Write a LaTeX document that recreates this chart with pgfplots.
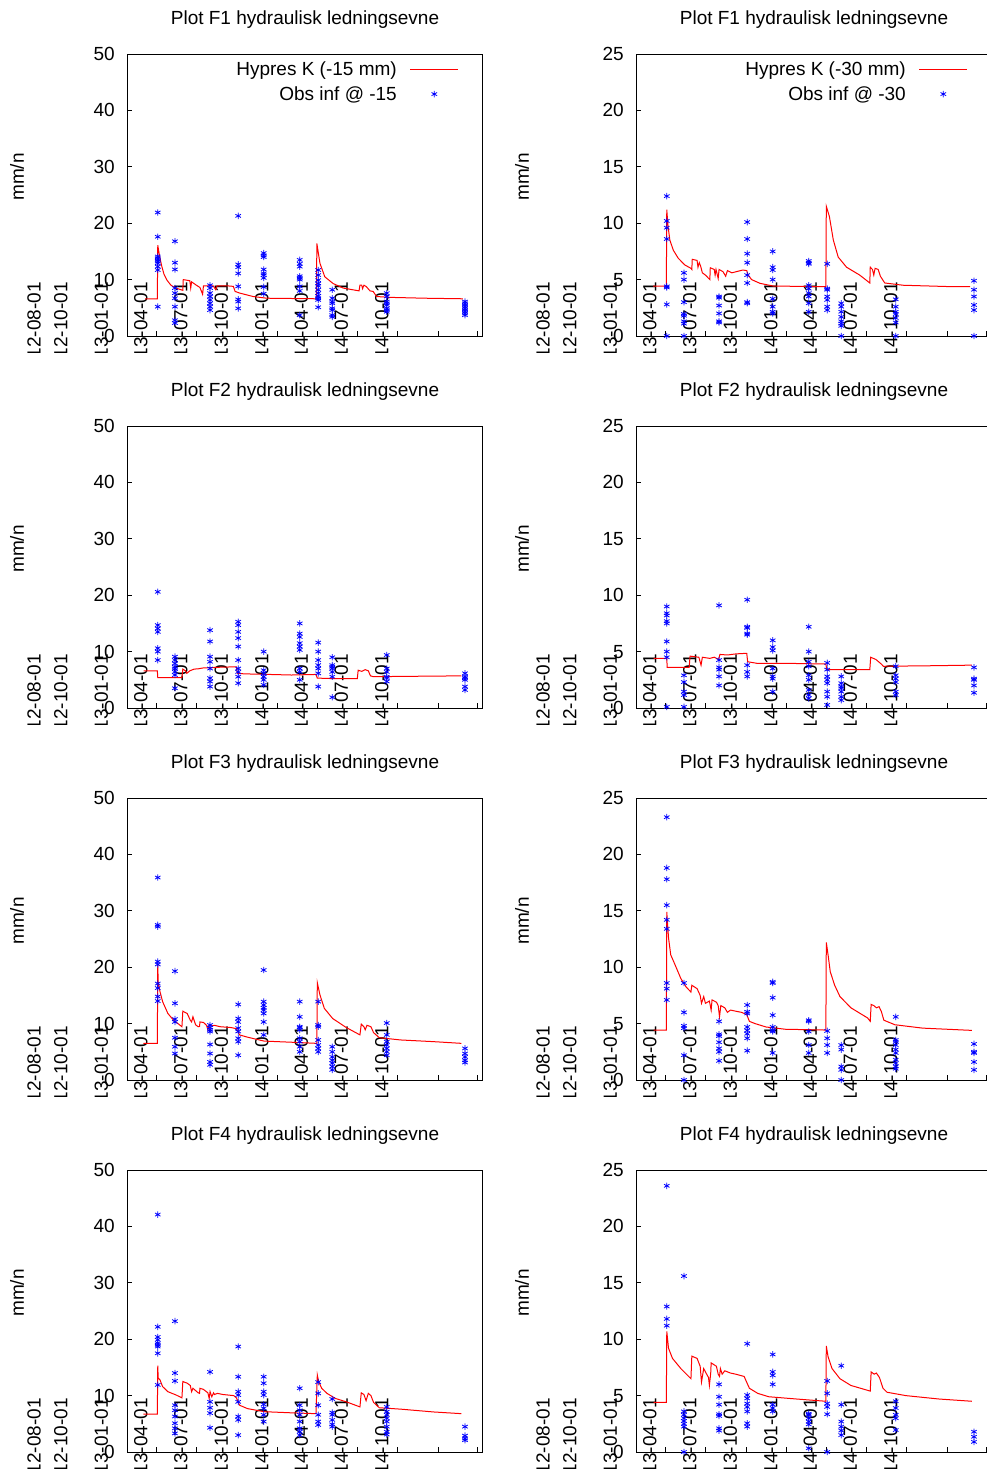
\documentclass[border=0pt]{standalone}
\usepackage{fontspec}
\setmainfont{Liberation Sans}
\usepackage{pgfplots}
\pgfplotsset{compat=1.18}

\newcommand{\F}{\fontsize{19bp}{23bp}\selectfont}

\tikzset{early/.style={xshift=-16bp, yshift=54bp, rotate=90, anchor=east, inner sep=0pt, font=\F}}

% x = days since 2013-01-01
\pgfplotsset{
 kline/.style={red, line width=1bp},
 obs/.style={blue, only marks, mark=asterisk, mark size=3.2bp, mark options={line width=0.8bp}},
 panel/.style={
  scale only axis, width=356bp, height=282bp,
  xmin=22, xmax=832, ymin=0, enlargelimits=false, clip=false,
  axis line style={line width=1bp},
  tick align=inside, xtick pos=left, ytick pos=left,
  major tick length=5bp, tick style={line width=0.8bp, black},
  xtick={90,181,273,365,455,546,638,730,820},
  xticklabels={2013-04-01,2013-07-01,2013-10-01,2014-01-01,2014-04-01,2014-07-01,2014-10-01,{},{}},
  xticklabel style={font=\F, xshift=-16bp, yshift=54bp, rotate=90, anchor=east, inner sep=0pt},
  yticklabel style={font=\F, xshift=-12bp, anchor=east, inner sep=0pt},
  /pgf/number format/assume math mode=true,
  ylabel={mm/n},
  title style={font=\F, at={(0.5,1)}, anchor=base, yshift=24bp, inner sep=0pt},
  legend style={at={(axis description cs:1,1)}, anchor=north east, xshift=-24bp, yshift=-8bp,
    draw=none, fill=none, inner sep=0pt, font=\F, row sep=9bp, column sep=13bp,
    nodes={inner sep=0pt}},
  legend cell align=right, legend plot pos=right,
  legend image code/.code={\path[draw=none, fill=none] (0bp,-3bp) rectangle (48bp,3bp);
    \draw[mark repeat=2,mark phase=2,##1] plot coordinates {(0bp,0bp)(24bp,0bp)(48bp,0bp)};},
 },
 leftpanel/.style={panel, ymax=50, ytick={0,10,...,50},
   every axis y label/.style={at={(axis description cs:0,0.564)}, xshift=-110bp, rotate=90, anchor=center, font=\F}},
 rightpanel/.style={panel, ymax=25, ytick={0,5,...,25},
   every axis y label/.style={at={(axis description cs:0,0.564)}, xshift=-114bp, rotate=90, anchor=center, font=\F}},
}

\newcommand{\earlylabels}{%
 \node[early] at (axis cs:-153,0) {2012-08-01};
 \node[early] at (axis cs:-92,0) {2012-10-01};
 \node[early] at (axis cs:0,0) {2013-01-01};}

\begin{document}
\begin{tikzpicture}
\useasboundingbox (0,-1476bp) rectangle (987bp,0);

% ---------------- F1, -15 mm ----------------
\begin{scope}
\clip (0,-352bp) rectangle (500bp,0);
\begin{axis}[leftpanel, at={(127bp,-336bp)}, anchor=south west,
  title={Plot F1 hydraulisk ledningsevne}]
\addplot[kline] coordinates {(63,6.6)(91,6.6)(92,16.1)(96,14.2)(101,12.4)(106,11.0)(113,9.9)(122,9.0)(133,8.5)(145,8.2)(149,8.1)(150,10.0)(165,9.8)(167,8.5)(169,9.6)(180,9.0)(188,8.6)(194,7.4)(196,8.9)(210,8.9)(218,8.9)(224,8.2)(227,8.9)(249,8.9)(264,8.8)(268,7.9)(279,7.6)(309,7.0)(340,6.7)(453,6.6)(454,16.4)(461,12.9)(472,10.5)(491,9.3)(514,8.5)(550,8.0)(552,9.0)(556,9.0)(558,8.4)(561,9.0)(566,8.8)(575,8.0)(582,7.9)(590,7.0)(620,6.85)(700,6.7)(786,6.6)};
\addplot[obs] coordinates {
(92,21.9)(92,17.6)(92,14.1)(92,13.8)(92,13.5)(92,13.2)(92,12.9)(92,12.3)(92,11.7)(92,5.2)
(131,16.8)(131,13.0)(131,11.8)(131,8.5)(131,7.6)(131,6.7)(131,5.2)(131,2.8)(131,2.3)
(211,9.0)(211,8.5)(211,7.6)(211,7.0)(211,6.4)(211,5.8)(211,5.2)(211,4.6)
(275,21.3)(275,12.7)(275,12.2)(275,11.1)(275,8.8)(275,6.5)(275,6.1)(275,4.9)
(333,14.7)(333,14.3)(333,14.0)(333,11.8)(333,11.1)(333,10.8)(333,10.3)(333,8.7)(333,7.5)
(415,13.5)(415,12.8)(415,12.3)(415,10.6)(415,10.3)(415,10.0)(415,8.8)(415,8.0)(415,3.7)
(457,11.7)(457,10.8)(457,9.9)(457,9.3)(457,8.9)(457,8.2)(457,7.6)(457,7.1)(457,6.7)(457,6.4)(457,5.1)
(489,8.2)(489,6.7)(489,6.1)(489,5.8)(489,4.9)(489,4.6)(489,3.7)(489,3.4)
(613,7.6)(613,7.0)(613,6.1)(613,5.8)(613,5.5)(613,4.9)(613,4.6)(613,4.3)
(791,6.1)(791,5.8)(791,5.5)(791,5.2)(791,4.9)(791,4.6)(791,4.3)(791,4.0)(791,3.7)};
\legend{Hypres K (-15 mm), Obs inf @ -15}
\earlylabels
\end{axis}
\end{scope}

% ---------------- F1, -30 mm ----------------
\begin{scope}
\clip (500bp,-352bp) rectangle (987bp,0);
\begin{axis}[rightpanel, at={(636bp,-336bp)}, anchor=south west,
  title={Plot F1 hydraulisk ledningsevne}]
\addplot[kline] coordinates {(61,4.43)(91,4.43)(92,11.2)(95,9.7)(99,8.5)(107,7.6)(118,6.9)(133,6.3)(147,6.0)(149,5.9)(150,6.8)(161,6.7)(163,6.1)(166,6.5)(169,6.2)(173,5.6)(180,5.4)(190,5.0)(191,6.05)(200,5.9)(202,5.4)(204,5.9)(209,5.1)(211,5.9)(220,5.7)(226,5.3)(230,5.8)(240,5.6)(250,5.7)(265,5.85)(274,5.8)(277,5.4)(285,5.0)(304,4.67)(334,4.43)(454,4.37)(455,11.5)(462,10.6)(471,8.5)(482,7.0)(501,6.1)(531,5.4)(554,4.7)(555,6.1)(560,5.9)(563,5.4)(566,6.0)(573,5.9)(578,5.3)(588,4.7)(630,4.5)(744,4.37)(782,4.37)};
\addplot[obs] coordinates {
(92,12.4)(92,10.2)(92,9.6)(92,8.6)(92,4.4)(92,4.3)(92,2.8)(92,0.0)
(131,5.6)(131,5.0)(131,3.0)(131,1.95)(131,1.8)(131,1.3)(131,1.1)(131,0.0)
(211,3.5)(211,3.4)(211,2.7)(211,2.0)(211,1.3)(211,1.2)
(275,10.1)(275,8.6)(275,7.3)(275,6.5)(275,5.4)(275,4.7)(275,3.0)(275,2.9)
(333,7.5)(333,6.1)(333,5.85)(333,5.0)(333,3.3)(333,2.6)(333,2.15)(333,2.0)
(415,6.65)(415,6.5)(415,6.4)(415,4.5)(415,4.2)(415,3.8)(415,3.5)(415,2.9)(415,2.15)
(457,6.4)(457,4.2)(457,4.1)(457,3.5)(457,3.2)(457,2.6)(457,2.3)
(489,2.9)(489,2.6)(489,2.15)(489,1.7)(489,1.3)(489,1.1)(489,0.9)(489,0.0)
(613,3.25)(613,2.6)(613,2.15)(613,1.95)(613,1.6)(613,1.2)(613,0.0)
(791,4.9)(791,4.1)(791,3.5)(791,2.75)(791,2.3)(791,0.0)};
\legend{Hypres K (-30 mm), Obs inf @ -30}
\earlylabels
\end{axis}
\end{scope}

% ---------------- F2, -15 mm ----------------
\begin{scope}
\clip (0,-724bp) rectangle (500bp,-372bp);
\begin{axis}[leftpanel, at={(127bp,-708bp)}, anchor=south west,
  title={Plot F2 hydraulisk ledningsevne}]
\addplot[kline] coordinates {(60,6.6)(91,6.6)(92,5.4)(147,5.4)(149,6.9)(155,6.6)(158,6.15)(165,6.6)(175,6.9)(184,6.95)(195,7.1)(209,7.15)(240,7.25)(271,7.3)(273,6.15)(290,6.05)(321,6.0)(396,5.85)(452,5.95)(455,5.3)(496,5.2)(546,5.2)(548,6.7)(556,6.5)(564,6.8)(571,6.6)(576,5.7)(583,5.55)(640,5.6)(783,5.7)};
\addplot[obs] coordinates {
(92,20.6)(92,14.7)(92,14.1)(92,13.5)(92,10.6)(92,10.0)(92,8.5)
(131,9.1)(131,8.5)(131,7.9)(131,7.3)(131,7.0)(131,6.4)(131,5.85)(131,3.5)
(211,13.8)(211,11.8)(211,9.1)(211,8.2)(211,7.0)(211,5.3)(211,4.7)(211,3.8)
(275,15.3)(275,14.7)(275,13.5)(275,12.4)(275,10.9)(275,8.5)(275,7.0)(275,6.4)(275,5.55)(275,4.4)
(333,10.0)(333,6.7)(333,6.15)(333,5.55)(333,5.0)(333,4.1)
(415,15.0)(415,13.2)(415,12.6)(415,11.5)(415,10.9)(415,10.3)(415,7.0)(415,6.4)(415,5.0)
(457,11.6)(457,10.0)(457,8.5)(457,7.6)(457,7.0)(457,6.15)(457,3.8)
(489,9.0)(489,7.6)(489,7.3)(489,7.0)(489,6.4)(489,5.55)(489,1.9)
(613,9.4)(613,7.0)(613,6.4)(613,5.55)(613,5.3)(613,4.7)
(791,6.15)(791,5.55)(791,5.3)(791,5.0)(791,3.8)(791,3.2)};
\earlylabels
\end{axis}
\end{scope}

% ---------------- F2, -30 mm ----------------
\begin{scope}
\clip (500bp,-724bp) rectangle (987bp,-372bp);
\begin{axis}[rightpanel, at={(636bp,-708bp)}, anchor=south west,
  title={Plot F2 hydraulisk ledningsevne}]
\addplot[kline] coordinates {(62,4.4)(92,4.4)(93,3.6)(143,3.6)(145,4.6)(155,4.55)(165,4.5)(170,3.8)(173,4.5)(190,4.4)(200,4.5)(210,4.3)(213,4.75)(230,4.7)(250,4.8)(274,4.85)(276,4.1)(299,3.95)(380,3.95)(454,3.9)(456,3.4)(554,3.4)(556,4.5)(568,4.3)(580,3.9)(585,3.7)(700,3.75)(786,3.8)};
\addplot[obs] coordinates {
(92,9.0)(92,8.4)(92,8.2)(92,7.7)(92,7.5)(92,5.9)(92,5.0)(92,4.5)(92,0.1)
(131,2.9)(131,2.3)(131,1.45)(131,1.15)(131,0.1)
(211,9.1)(211,4.25)(211,3.6)(211,3.4)(211,2.8)(211,2.0)
(275,9.6)(275,7.2)(275,7.1)(275,6.6)(275,6.5)(275,3.8)(275,3.2)(275,2.8)
(333,6.0)(333,5.4)(333,5.1)(333,3.5)(333,2.8)(333,2.6)(333,1.45)
(415,7.2)(415,5.0)(415,4.1)(415,3.7)(415,2.9)(415,2.5)(415,1.6)(415,1.15)(415,0.86)
(457,4.0)(457,3.4)(457,2.8)(457,2.5)(457,2.2)(457,1.45)(457,1.0)(457,0.27)
(489,2.8)(489,2.2)(489,1.9)(489,1.75)(489,1.45)(489,1.0)(489,0.7)
(613,3.7)(613,2.9)(613,2.6)(613,2.3)(613,1.45)(613,1.15)
(791,3.6)(791,2.6)(791,2.5)(791,2.0)(791,1.35)};
\earlylabels
\end{axis}
\end{scope}

% ---------------- F3, -15 mm ----------------
\begin{scope}
\clip (0,-1096bp) rectangle (500bp,-744bp);
\begin{axis}[leftpanel, at={(127bp,-1080bp)}, anchor=south west,
  title={Plot F3 hydraulisk ledningsevne}]
\addplot[kline] coordinates {(59,6.5)(91,6.5)(92,20.4)(93,17.4)(97,15.7)(103,13.9)(115,11.8)(128,10.6)(147,9.45)(149,12.2)(159,11.8)(166,10.6)(169,10.3)(172,11.2)(178,9.8)(184,9.45)(187,9.5)(188,10.3)(196,10.2)(203,9.7)(206,8.9)(209,9.8)(215,9.6)(221,9.7)(234,9.45)(259,9.3)(271,9.1)(278,8.0)(296,7.6)(334,6.9)(396,6.7)(454,6.5)(455,17.25)(461,15.1)(471,12.7)(490,10.9)(521,9.3)(552,8.0)(555,9.9)(561,9.45)(564,8.9)(568,9.7)(577,9.45)(583,8.4)(596,7.5)(645,7.1)(720,6.8)(783,6.5)};
\addplot[obs] coordinates {
(92,35.9)(92,27.5)(92,27.2)(92,21.0)(92,20.5)(92,17.1)(92,16.3)(92,14.8)(92,14.0)
(131,19.3)(131,13.6)(131,10.8)(131,10.3)(131,7.5)(131,5.9)(131,4.7)
(211,9.75)(211,9.3)(211,8.9)(211,8.6)(211,6.3)(211,4.7)(211,3.2)(211,2.7)
(275,13.4)(275,10.9)(275,10.3)(275,9.2)(275,8.6)(275,7.4)(275,6.8)(275,4.4)
(333,19.5)(333,13.9)(333,13.3)(333,12.8)(333,12.4)(333,11.8)(333,10.3)(333,8.0)
(415,13.9)(415,11.2)(415,9.45)(415,9.3)(415,8.9)(415,7.4)(415,6.8)(415,5.9)(415,5.0)
(457,13.9)(457,9.75)(457,9.45)(457,7.1)(457,6.2)(457,5.6)(457,5.0)
(489,5.9)(489,5.0)(489,4.1)(489,3.5)(489,3.0)(489,2.4)(489,1.8)
(613,10.1)(613,8.0)(613,6.8)(613,6.2)(613,5.6)(613,5.0)(613,4.4)
(791,5.6)(791,4.7)(791,4.1)(791,3.5)(791,3.1)};
\earlylabels
\end{axis}
\end{scope}

% ---------------- F3, -30 mm ----------------
\begin{scope}
\clip (500bp,-1096bp) rectangle (987bp,-744bp);
\begin{axis}[rightpanel, at={(636bp,-1080bp)}, anchor=south west,
  title={Plot F3 hydraulisk ledningsevne}]
\addplot[kline] coordinates {(62,4.43)(91,4.43)(92,14.9)(96,12.6)(101,11.1)(111,10.2)(124,9.0)(136,8.25)(147,7.8)(149,8.4)(161,8.1)(168,7.5)(171,6.8)(176,7.4)(180,6.8)(189,7.0)(193,6.2)(195,7.1)(205,6.9)(209,6.6)(212,5.6)(215,6.6)(224,6.4)(230,6.0)(237,6.2)(249,6.1)(262,6.0)(274,5.8)(280,5.2)(293,5.0)(318,4.7)(362,4.5)(454,4.43)(455,12.2)(459,11.1)(464,9.6)(474,8.4)(486,7.4)(511,6.4)(549,5.5)(555,5.2)(557,6.7)(563,6.6)(569,6.4)(575,6.5)(580,6.1)(586,5.3)(611,4.9)(674,4.6)(786,4.4)};
\addplot[obs] coordinates {
(92,23.3)(92,18.8)(92,17.8)(92,15.5)(92,14.2)(92,13.4)(92,8.6)(92,8.1)(92,7.1)
(131,8.6)(131,6.0)(131,4.8)(131,4.6)(131,2.2)(131,0.0)
(211,5.2)(211,4.05)(211,3.9)(211,3.35)(211,2.8)(211,2.5)(211,1.7)
(275,6.65)(275,6.05)(275,5.9)(275,4.7)(275,4.4)(275,4.1)(275,3.7)(275,2.6)
(333,8.7)(333,8.6)(333,7.3)(333,5.75)(333,4.7)(333,4.4)(333,4.3)(333,2.4)
(415,5.3)(415,5.2)(415,4.3)(415,3.1)(415,2.4)
(457,4.35)(457,3.7)(457,3.1)(457,2.4)
(489,3.1)(489,2.7)(489,1.2)(489,0.9)(489,0.0)
(613,5.6)(613,3.55)(613,3.4)(613,3.1)(613,2.7)(613,2.4)(613,1.8)(613,1.5)(613,1.2)(613,1.0)
(791,3.2)(791,2.5)(791,2.4)(791,1.6)(791,0.9)};
\earlylabels
\end{axis}
\end{scope}

% ---------------- F4, -15 mm ----------------
\begin{scope}
\clip (0,-1468bp) rectangle (500bp,-1116bp);
\begin{axis}[leftpanel, at={(127bp,-1452bp)}, anchor=south west,
  title={Plot F4 hydraulisk ledningsevne}]
\addplot[kline] coordinates {(59,6.7)(91,6.7)(92,15.3)(93,13.1)(97,12.8)(103,11.6)(115,10.7)(134,10.1)(147,9.6)(149,12.5)(159,12.2)(166,11.8)(169,10.7)(172,11.3)(178,10.9)(184,10.5)(187,10.4)(188,11.3)(196,11.1)(206,10.5)(209,9.5)(211,10.7)(215,9.8)(219,10.5)(221,10.2)(228,10.4)(240,10.2)(265,10.0)(271,9.6)(278,8.3)(296,7.7)(334,7.15)(396,6.95)(452,6.8)(455,13.65)(458,12.5)(465,11.3)(477,10.4)(496,9.5)(521,8.9)(552,8.0)(555,10.5)(561,10.2)(566,9.1)(571,10.4)(577,10.0)(583,8.8)(596,7.85)(645,7.6)(720,7.1)(783,6.8)};
\addplot[obs] coordinates {
(92,42.1)(92,22.2)(92,20.4)(92,19.9)(92,19.3)(92,19.0)(92,18.7)(92,17.5)(92,11.9)
(131,23.2)(131,14.0)(131,12.6)(131,8.3)(131,7.4)(131,6.3)(131,5.1)(131,4.2)(131,3.3)
(211,14.2)(211,8.9)(211,7.85)(211,6.9)(211,4.3)
(275,18.7)(275,13.35)(275,10.7)(275,10.1)(275,8.9)(275,6.3)(275,5.7)(275,3.0)
(333,13.35)(333,12.2)(333,10.7)(333,10.1)(333,8.45)(333,7.75)(333,6.6)(333,5.4)
(415,11.3)(415,8.3)(415,7.4)(415,6.6)(415,5.4)(415,4.2)(415,3.6)(415,3.0)
(457,12.4)(457,10.4)(457,8.3)(457,6.6)(457,5.4)(457,4.8)
(489,9.4)(489,7.0)(489,6.6)(489,5.7)(489,4.9)(489,4.5)
(613,8.0)(613,7.15)(613,6.6)(613,6.0)(613,5.4)(613,4.5)(613,3.6)(613,3.1)
(791,4.5)(791,2.9)(791,2.4)(791,2.1)};
\earlylabels
\end{axis}
\end{scope}

% ---------------- F4, -30 mm ----------------
\begin{scope}
\clip (500bp,-1468bp) rectangle (987bp,-1116bp);
\begin{axis}[rightpanel, at={(636bp,-1452bp)}, anchor=south west,
  title={Plot F4 hydraulisk ledningsevne}]
\addplot[kline] coordinates {(62,4.4)(91,4.4)(92,10.7)(96,9.2)(105,8.3)(124,7.4)(147,6.5)(149,8.5)(161,8.3)(168,7.6)(171,6.2)(176,7.4)(180,7.1)(187,6.6)(189,5.9)(192,7.0)(193,7.9)(205,7.6)(209,6.9)(212,6.7)(214,7.4)(218,6.9)(224,7.2)(237,7.0)(249,6.9)(268,6.7)(280,5.65)(299,5.2)(324,4.9)(387,4.7)(454,4.5)(455,9.4)(459,8.45)(468,7.4)(486,6.5)(511,5.9)(555,5.4)(557,7.1)(564,6.9)(569,7.0)(576,6.6)(584,5.65)(593,5.3)(636,5.0)(711,4.7)(786,4.5)};
\addplot[obs] coordinates {
(92,23.6)(92,12.9)(92,11.8)(92,11.2)
(131,15.6)(131,3.6)(131,3.3)(131,3.0)(131,2.75)(131,2.5)(131,2.25)(131,0.0)
(211,6.0)(211,4.9)(211,4.2)(211,3.35)(211,3.2)(211,2.1)(211,1.9)
(275,9.6)(275,5.05)(275,4.75)(275,4.3)(275,4.0)(275,3.6)(275,2.55)(275,2.25)
(333,8.65)(333,7.1)(333,6.8)(333,6.0)(333,4.2)(333,3.9)(333,3.6)
(415,3.4)(415,3.3)(415,3.0)(415,2.7)(415,2.45)(415,0.33)
(457,6.3)(457,5.2)(457,4.3)(457,4.0)(457,3.35)(457,0.0)
(489,7.65)(489,4.2)(489,2.7)(489,2.25)(489,1.9)(489,1.5)
(613,4.5)(613,3.9)(613,3.3)(613,3.0)(613,1.95)
(791,1.8)(791,1.35)(791,0.9)};
\earlylabels
\end{axis}
\end{scope}

\end{tikzpicture}
\end{document}
